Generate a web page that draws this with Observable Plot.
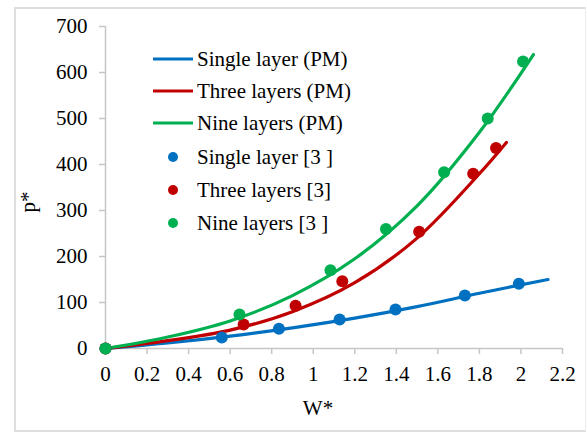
<!DOCTYPE html>
<html>
<head>
<meta charset="utf-8">
<script src="https://cdn.jsdelivr.net/npm/d3@7"></script>
<script src="https://cdn.jsdelivr.net/npm/@observablehq/plot@0.6"></script>
<style>
  html, body { margin: 0; padding: 0; background: #fff; }
  #wrap { position: relative; width: 587px; height: 432px; overflow: hidden; }
  #border { position: absolute; left: 14px; top: 7px; width: 572px; height: 425px; border: 2px solid #dedede; border-right: 1px solid #ececec; box-sizing: border-box; pointer-events: none; }
  svg text { font-family: "Liberation Serif", "Times New Roman", "DejaVu Serif", serif !important; }
</style>
</head>
<body>
<div id="wrap"><div id="border"></div></div>
<script>
// Model curves (PM)
const singlePM_W = [0, 0.3, 0.6, 0.9, 1.2, 1.5, 1.8, 2.13];
const singlePM_p = [0, 12, 27, 45, 66, 91, 120, 150];
const threePM_W = [0, 0.3, 0.6, 0.9, 1.2, 1.5, 1.8, 1.93];
const threePM_p = [0, 17, 40, 80, 143, 240, 380, 448];
const ninePM_W = [0, 0.3, 0.6, 0.9, 1.2, 1.5, 1.8, 2.06];
const ninePM_p = [0, 25, 60, 115, 195, 310, 470, 639];

// Reference points [3]
const singleRef_W = [0, 0.56, 0.835, 1.127, 1.396, 1.73, 1.99];
const singleRef_p = [0, 24, 43, 63, 85, 115, 141];
const threeRef_W = [0, 0.665, 0.915, 1.14, 1.51, 1.77, 1.88];
const threeRef_p = [0, 52, 93, 146, 254, 380, 436];
const nineRef_W = [0, 0.645, 1.083, 1.35, 1.63, 1.84, 2.01];
const nineRef_p = [0, 74, 170, 260, 383, 500, 624];

const xTicks = [0, 0.2, 0.4, 0.6, 0.8, 1, 1.2, 1.4, 1.6, 1.8, 2, 2.2];
const xTickLabels = ["0", "0.2", "0.4", "0.6", "0.8", "1", "1.2", "1.4", "1.6", "1.8", "2", "2.2"];
const yTicks = [0, 100, 200, 300, 400, 500, 600, 700];

const seriesNames = ["Single layer (PM)", "Three layers (PM)", "Nine layers (PM)", "Single layer [3 ]", "Three layers [3]", "Nine layers [3 ]"];
const colors = ["#0070C0", "#C00000", "#00B050"];

const zip = (W, p) => W.map((w, i) => ({W: w, p: p[i]}));
const lines = [zip(singlePM_W, singlePM_p), zip(threePM_W, threePM_p), zip(ninePM_W, ninePM_p)];
const refs = [zip(singleRef_W, singleRef_p), zip(threeRef_W, threeRef_p), zip(nineRef_W, nineRef_p)];

const axisGray = "#c6c6c6";
const serif = "Liberation Serif, Times New Roman, DejaVu Serif, serif";
const fs = 21;

const plot = Plot.plot({
  width: 587,
  height: 432,
  marginLeft: 105,
  marginRight: 25,
  marginTop: 26,
  marginBottom: 84,
  style: {fontFamily: serif, fontSize: fs + "px", color: "#000", background: "transparent"},
  x: {domain: [0, 2.2]},
  y: {domain: [0, 700]},
  marks: [
    Plot.ruleX([0], {stroke: axisGray, strokeWidth: 1.5}),
    Plot.ruleY([0], {stroke: axisGray, strokeWidth: 1.5}),
    Plot.axisX({ticks: xTicks, tickFormat: (d, i) => xTickLabels[i], tickSize: 6, tickPadding: 12, label: null}),
    Plot.axisY({ticks: yTicks, tickSize: 6, tickPadding: 12, label: null}),
    ...lines.map((d, i) => Plot.line(d, {x: "W", y: "p", stroke: colors[i], strokeWidth: 3.2, curve: "catmull-rom"})),
    ...refs.map((d, i) => Plot.dot(d, {x: "W", y: "p", fill: colors[i], r: 6}))
  ]
});

const svg = d3.select(plot);
svg.attr("font-family", serif).style("font-family", serif);
svg.selectAll('[aria-label="x-axis tick"], [aria-label="y-axis tick"]').attr("stroke", axisGray).attr("stroke-width", 1.5);

// Axis titles
svg.append("text").attr("x", 318).attr("y", 415).attr("text-anchor", "middle").attr("font-size", fs).text("W*");
svg.append("text").attr("transform", "translate(35,202) rotate(-90)").attr("text-anchor", "middle").attr("font-size", fs).text("p*");

// Legend
const lg = svg.append("g").attr("text-anchor", "start");
const legendY = [59, 91, 123, 157, 190, 223];
seriesNames.forEach((name, i) => {
  const y = legendY[i];
  const c = colors[i % 3];
  if (i < 3) {
    lg.append("line").attr("x1", 153).attr("x2", 193).attr("y1", y).attr("y2", y).attr("stroke", c).attr("stroke-width", 3.2);
  } else {
    lg.append("circle").attr("cx", 173).attr("cy", y).attr("r", 5).attr("fill", c);
  }
  lg.append("text").attr("x", 197).attr("y", y).attr("dy", "0.32em").attr("text-anchor", "start").attr("font-size", fs).text(name);
});

svg.selectAll("text").attr("font-family", serif);

document.getElementById("wrap").appendChild(plot);
plot.style.position = "absolute";
plot.style.left = "0px";
plot.style.top = "0px";
</script>
</body>
</html>
